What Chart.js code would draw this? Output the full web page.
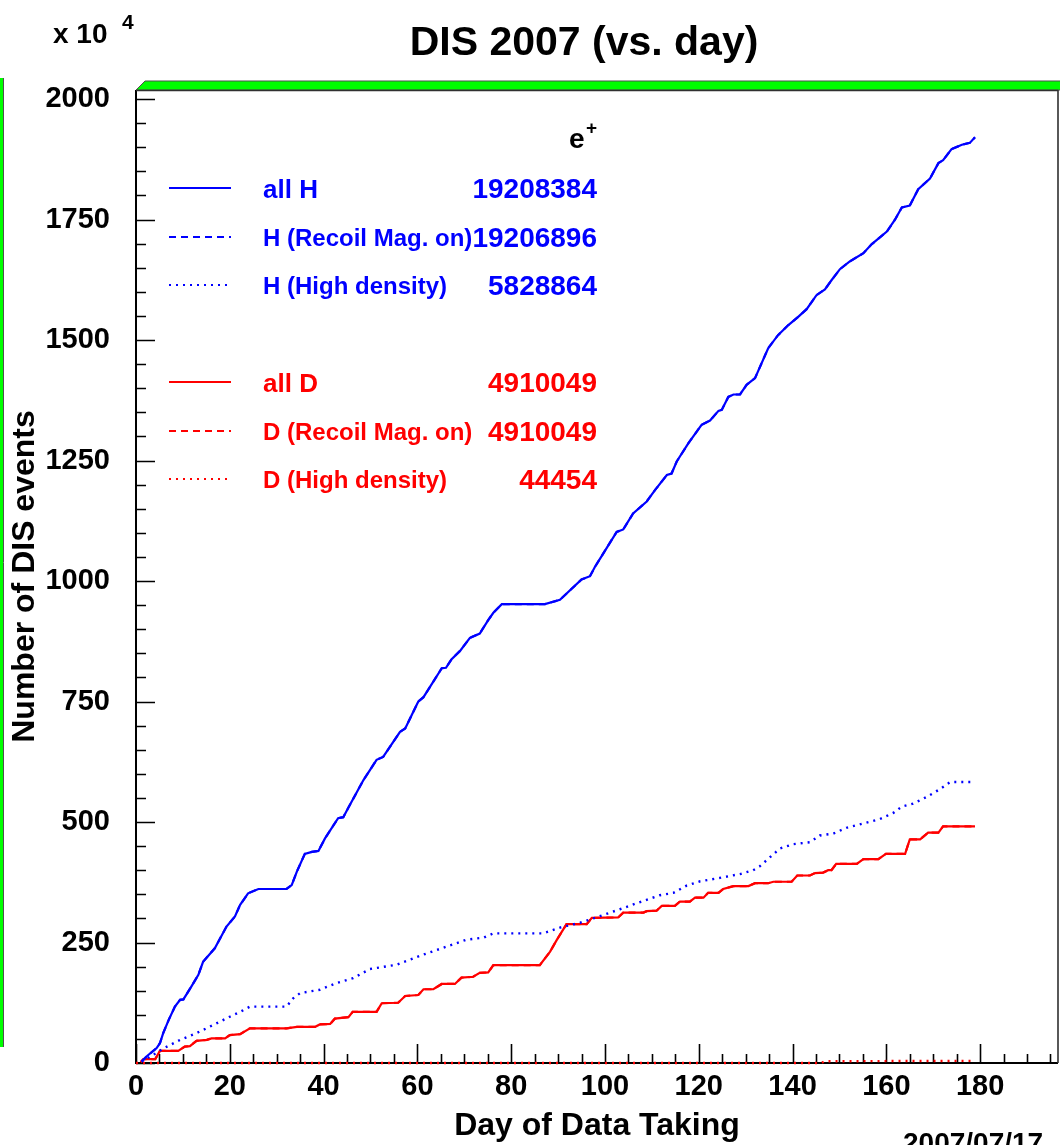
<!DOCTYPE html>
<html>
<head>
<meta charset="utf-8">
<title>DIS 2007 (vs. day)</title>
<script src="https://cdn.jsdelivr.net/npm/chart.js@4.4.0/dist/chart.umd.min.js"></script>
<style>
  html, body { margin: 0; padding: 0; background: #ffffff; }
  canvas { display: block; }
</style>
</head>
<body>
<canvas id="dis" width="1060" height="1145"></canvas>
<script>
// Cumulative DIS events (units of 10^4) versus day of data taking, 2007 e+ run.

const seriesNames = [
  'all H', 'H (Recoil Mag. on)', 'H (High density)',
  'all D', 'D (Recoil Mag. on)', 'D (High density)'
];
const seriesTotals = ['19208384', '19206896', '5828864', '4910049', '4910049', '44454'];

const hAllDays = [1.2, 2.3, 4.4, 5.1, 5.8, 7.0, 8.3, 9.4, 10.1, 11.7, 13.3, 14.3, 16.8, 19.3, 21.1, 22.2, 23.9, 26.1, 32.1, 33.2, 34.3, 36.0, 37.5, 38.9, 40.3, 43.1, 44.2, 45.3, 48.5, 51.3, 52.7, 56.3, 57.4, 60.2, 61.3, 65.2, 66.1, 67.3, 69.1, 71.2, 73.3, 75.1, 76.2, 78.0, 87.2, 90.4, 95.0, 96.8, 97.9, 102.5, 103.9, 106.0, 108.9, 110.7, 113.2, 114.2, 115.3, 117.8, 120.6, 122.4, 124.2, 124.9, 126.3, 127.4, 128.8, 130.2, 132.0, 134.8, 136.9, 139.1, 141.2, 143.0, 145.1, 146.9, 148.3, 150.1, 152.2, 155.1, 156.9, 160.1, 161.8, 163.3, 165.0, 166.8, 169.3, 171.1, 172.1, 173.9, 176.1, 177.8, 178.9];
const hAllEvents = [3, 14, 31, 41, 62, 90, 117, 131, 132, 157, 183, 210, 238, 283, 304, 328, 352, 361, 361, 369, 397, 434, 438, 440, 466, 508, 510, 530, 587, 629, 635, 687, 694, 750, 759, 819, 820, 838, 855, 882, 891, 919, 934, 952, 952, 961, 1003, 1010, 1030, 1102, 1107, 1140, 1165, 1189, 1220, 1223, 1248, 1286, 1324, 1333, 1353, 1355, 1382, 1387, 1387, 1407, 1421, 1483, 1510, 1531, 1548, 1564, 1593, 1605, 1624, 1647, 1663, 1680, 1699, 1725, 1749, 1775, 1779, 1813, 1835, 1867, 1873, 1896, 1905, 1909, 1920.8];

const hRecoilDays = [1.2, 2.3, 4.4, 5.1, 5.8, 7.0, 8.3, 9.4, 10.1, 11.7, 13.3, 14.3, 16.8, 19.3, 21.1, 22.2, 23.9, 26.1, 32.1, 33.2, 34.3, 36.0, 37.5, 38.9, 40.3, 43.1, 44.2, 45.3, 48.5, 51.3, 52.7, 56.3, 57.4, 60.2, 61.3, 65.2, 66.1, 67.3, 69.1, 71.2, 73.3, 75.1, 76.2, 78.0, 87.2, 90.4, 95.0, 96.8, 97.9, 102.5, 103.9, 106.0, 108.9, 110.7, 113.2, 114.2, 115.3, 117.8, 120.6, 122.4, 124.2, 124.9, 126.3, 127.4, 128.8, 130.2, 132.0, 134.8, 136.9, 139.1, 141.2, 143.0, 145.1, 146.9, 148.3, 150.1, 152.2, 155.1, 156.9, 160.1, 161.8, 163.3, 165.0, 166.8, 169.3, 171.1, 172.1, 173.9, 176.1, 177.8, 178.9];
const hRecoilEvents = [3, 14, 31, 41, 62, 90, 117, 131, 132, 157, 183, 210, 238, 283, 304, 328, 352, 361, 361, 369, 397, 434, 438, 440, 466, 508, 510, 530, 587, 629, 635, 687, 694, 750, 759, 819, 820, 838, 855, 882, 891, 919, 934, 952, 952, 961, 1003, 1010, 1030, 1102, 1107, 1140, 1165, 1189, 1220, 1223, 1248, 1286, 1324, 1333, 1353, 1355, 1382, 1387, 1387, 1407, 1421, 1483, 1510, 1531, 1548, 1564, 1593, 1605, 1624, 1647, 1663, 1680, 1699, 1725, 1749, 1775, 1779, 1813, 1835, 1867, 1873, 1896, 1905, 1909, 1920.7];

const hDenseDays = [1.2, 4.4, 5.8, 9.4, 12.9, 16.5, 20.0, 22.2, 24.3, 32.1, 33.5, 35.0, 39.2, 42.8, 46.3, 49.9, 55.6, 61.3, 65.5, 70.5, 74.1, 76.2, 86.8, 90.4, 94.7, 97.5, 103.2, 107.5, 111.7, 114.6, 117.4, 120.3, 124.5, 128.8, 131.6, 133.0, 135.9, 137.3, 140.1, 143.7, 145.8, 148.7, 151.5, 155.1, 158.6, 161.5, 163.3, 165.7, 168.6, 171.4, 173.6, 178.9];
const hDenseEvents = [3, 21, 30, 48, 62, 79, 96, 106, 117, 117, 134, 145, 152, 166, 176, 195, 204, 225, 239, 256, 260, 269, 269, 281, 291, 300, 319, 334, 348, 353, 368, 377, 384, 392, 400, 408, 433, 445, 454, 458, 472, 476, 488, 497, 506, 519, 532, 538, 552, 568, 582.9, 582.9];

const dAllDays = [1.0, 1.6, 4.1, 5.1, 9.0, 10.4, 11.5, 12.9, 15.1, 16.1, 19.0, 20.0, 22.2, 24.3, 32.1, 34.3, 38.2, 39.2, 41.4, 42.4, 45.3, 46.2, 51.3, 52.4, 55.9, 57.4, 60.2, 61.3, 63.4, 65.2, 68.0, 69.4, 71.9, 73.3, 75.1, 76.2, 86.1, 88.3, 89.7, 91.8, 96.1, 97.2, 102.8, 103.9, 108.2, 108.9, 111.0, 112.1, 114.9, 116.0, 118.1, 119.2, 121.0, 122.0, 124.2, 125.2, 127.4, 130.6, 132.0, 134.8, 135.9, 139.8, 141.0, 143.7, 144.8, 146.5, 147.6, 148.3, 149.3, 153.7, 155.1, 158.3, 159.9, 164.0, 165.0, 167.2, 168.9, 171.1, 172.1, 178.9];
const dAllEvents = [2, 8, 8, 25, 25, 34, 35, 46, 48, 51, 51, 58, 60, 72, 72, 75, 75, 80, 81, 92, 95, 106, 106, 124, 125, 139, 141, 153, 153, 164, 164, 177, 179, 187, 188, 203, 203, 231, 255, 288, 288, 301, 302, 312, 312, 315, 316, 326, 326, 335, 335, 343, 343, 353, 353, 361, 367, 367, 373, 373, 376, 376, 389, 389, 394, 395, 400, 400, 413, 413, 423, 423, 434, 434, 464, 464, 478, 478, 491.0, 491.0];

const dRecoilDays = [1.0, 1.6, 4.1, 5.1, 9.0, 10.4, 11.5, 12.9, 15.1, 16.1, 19.0, 20.0, 22.2, 24.3, 32.1, 34.3, 38.2, 39.2, 41.4, 42.4, 45.3, 46.2, 51.3, 52.4, 55.9, 57.4, 60.2, 61.3, 63.4, 65.2, 68.0, 69.4, 71.9, 73.3, 75.1, 76.2, 86.1, 88.3, 89.7, 91.8, 96.1, 97.2, 102.8, 103.9, 108.2, 108.9, 111.0, 112.1, 114.9, 116.0, 118.1, 119.2, 121.0, 122.0, 124.2, 125.2, 127.4, 130.6, 132.0, 134.8, 135.9, 139.8, 141.0, 143.7, 144.8, 146.5, 147.6, 148.3, 149.3, 153.7, 155.1, 158.3, 159.9, 164.0, 165.0, 167.2, 168.9, 171.1, 172.1, 178.9];
const dRecoilEvents = [2, 8, 8, 25, 25, 34, 35, 46, 48, 51, 51, 58, 60, 72, 72, 75, 75, 80, 81, 92, 95, 106, 106, 124, 125, 139, 141, 153, 153, 164, 164, 177, 179, 187, 188, 203, 203, 231, 255, 288, 288, 301, 302, 312, 312, 315, 316, 326, 326, 335, 335, 343, 343, 353, 353, 361, 367, 367, 373, 373, 376, 376, 389, 389, 394, 395, 400, 400, 413, 413, 423, 423, 434, 434, 464, 464, 478, 478, 491.0, 491.0];

const dDenseDays = [0.0, 146.2, 146.8, 160.0, 178.9];
const dDenseEvents = [0, 0, 3.5, 4.0, 4.4];

const xTickLabels = [0, 20, 40, 60, 80, 100, 120, 140, 160, 180];
const yTickLabels = [0, 250, 500, 750, 1000, 1250, 1500, 1750, 2000];

const FONT = '"Liberation Sans", Arial, Helvetica, sans-serif';
const BLUE = '#0000ff';
const RED = '#ff0000';

const toPoints = (days, events) => days.map((d, i) => ({ x: d, y: events[i] }));

const styles = [
  { color: BLUE, dash: [], width: 2.2 },
  { color: BLUE, dash: [7, 5], width: 2.2 },
  { color: BLUE, dash: [2, 5], width: 2.4 },
  { color: RED, dash: [], width: 2.2 },
  { color: RED, dash: [7, 5], width: 2.2 },
  { color: RED, dash: [2, 5], width: 2.4 }
];
const seriesData = [
  toPoints(hAllDays, hAllEvents),
  toPoints(hRecoilDays, hRecoilEvents),
  toPoints(hDenseDays, hDenseEvents),
  toPoints(dAllDays, dAllEvents),
  toPoints(dRecoilDays, dRecoilEvents),
  toPoints(dDenseDays, dDenseEvents)
];

// Frame, bevel and inward tick marks, drawn underneath the curves.
const frame = {
  id: 'frame',
  beforeDatasetsDraw(chart) {
    const { ctx, chartArea: a, scales: { x, y } } = chart;
    ctx.save();

    // green bevel along the top of the frame
    ctx.fillStyle = '#00ff00';
    ctx.strokeStyle = '#505050';
    ctx.lineWidth = 1;
    ctx.beginPath();
    ctx.moveTo(a.left, a.top);
    ctx.lineTo(a.left + 9, a.top - 9);
    ctx.lineTo(1062, a.top - 9);
    ctx.lineTo(1062, a.top);
    ctx.closePath();
    ctx.fill();
    ctx.stroke();

    // green strip at the left edge of the canvas
    ctx.fillRect(0, 78, 3, 969);
    ctx.beginPath();
    ctx.moveTo(3.5, 78);
    ctx.lineTo(3.5, 1047);
    ctx.stroke();

    // axes and frame box
    ctx.strokeStyle = '#000000';
    ctx.lineWidth = 2;
    ctx.beginPath();
    ctx.moveTo(a.left, a.top);
    ctx.lineTo(a.left, a.bottom);
    ctx.lineTo(a.right, a.bottom);
    ctx.stroke();
    ctx.strokeStyle = '#303030';
    ctx.lineWidth = 1.6;
    ctx.beginPath();
    ctx.moveTo(a.right, a.top);
    ctx.lineTo(a.right, a.bottom);
    ctx.moveTo(a.left, a.top + 0.5);
    ctx.lineTo(a.right, a.top + 0.5);
    ctx.stroke();

    // tick marks pointing into the frame
    ctx.strokeStyle = '#000000';
    ctx.lineWidth = 1.6;
    ctx.beginPath();
    for (let d = 0; d <= x.max; d += 5) {
      const px = Math.round(x.getPixelForValue(d)) + 0.5;
      const len = d % 20 === 0 ? 19 : 9;
      ctx.moveTo(px, a.bottom);
      ctx.lineTo(px, a.bottom - len);
    }
    for (let v = 0; v <= y.max; v += 50) {
      const py = Math.round(y.getPixelForValue(v)) + 0.5;
      const len = v % 250 === 0 ? 19 : 10;
      ctx.moveTo(a.left, py);
      ctx.lineTo(a.left + len, py);
    }
    ctx.stroke();
    ctx.restore();
  }
};

// Legend box and free text.
const annotations = {
  id: 'annotations',
  afterDraw(chart) {
    const { ctx } = chart;
    ctx.save();

    const rowY = [188, 237, 285, 382, 431, 479];
    chart.data.datasets.forEach((ds, i) => {
      const yy = rowY[i];
      ctx.strokeStyle = ds.borderColor;
      ctx.lineWidth = 2.2;
      ctx.setLineDash(ds.borderDash || []);
      ctx.beginPath();
      ctx.moveTo(169, yy);
      ctx.lineTo(231, yy);
      ctx.stroke();
      ctx.setLineDash([]);
      ctx.fillStyle = ds.borderColor;
      ctx.textBaseline = 'alphabetic';
      ctx.textAlign = 'left';
      const big = (i === 0 || i === 3);
      ctx.font = 'bold ' + (big ? 26 : 24) + 'px ' + FONT;
      ctx.fillText(ds.label, 263, yy + (big ? 9.5 : 8.5));
      ctx.textAlign = 'right';
      ctx.font = 'bold 28px ' + FONT;
      ctx.fillText(seriesTotals[i], 597, yy + 10);
    });

    // beam label
    ctx.fillStyle = '#000000';
    ctx.textAlign = 'left';
    ctx.textBaseline = 'alphabetic';
    ctx.font = 'bold 28px ' + FONT;
    ctx.fillText('e', 569, 148);
    ctx.font = 'bold 19px ' + FONT;
    ctx.fillText('+', 586, 134);

    // title
    ctx.textAlign = 'center';
    ctx.font = 'bold 41px ' + FONT;
    ctx.fillText('DIS 2007 (vs. day)', 584, 55);

    // axis multiplier
    ctx.textAlign = 'left';
    ctx.font = 'bold 28px ' + FONT;
    ctx.fillText('x 10', 53, 43);
    ctx.font = 'bold 21px ' + FONT;
    ctx.fillText('4', 122, 29);

    // date stamp
    ctx.font = 'bold 28px ' + FONT;
    ctx.fillText('2007/07/17', 903, 1152);

    ctx.restore();
  }
};

const tickFont = { family: FONT, size: 29, weight: 'bold' };
const titleFont = { family: FONT, size: 32, weight: 'bold' };

new Chart(document.getElementById('dis'), {
  type: 'line',
  data: {
    datasets: seriesData.map((pts, i) => ({
      label: seriesNames[i],
      data: pts,
      borderColor: styles[i].color,
      borderDash: styles[i].dash,
      borderWidth: styles[i].width,
      pointRadius: 0,
      tension: 0,
      fill: false,
      clip: 4
    }))
  },
  options: {
    responsive: false,
    animation: false,
    events: [],
    layout: { padding: { left: 0, right: 2, top: 90, bottom: 0 } },
    plugins: {
      legend: { display: false },
      title: { display: false },
      tooltip: { enabled: false }
    },
    scales: {
      x: {
        type: 'linear',
        min: 0,
        max: 196.6,
        grid: { display: false, drawTicks: false },
        border: { display: false },
        afterBuildTicks: s => { s.ticks = xTickLabels.map(v => ({ value: v })); },
        afterFit: s => { s.height = 82; },
        ticks: {
          font: tickFont, color: '#000000', padding: 7,
          maxRotation: 0, autoSkip: false,
          callback: v => String(v)
        },
        title: {
          display: true, text: 'Day of Data Taking', color: '#000000',
          font: titleFont, padding: { top: 0, bottom: 0 }
        }
      },
      y: {
        type: 'linear',
        min: 0,
        max: 2018.7,
        grid: { display: false, drawTicks: false },
        border: { display: false },
        afterBuildTicks: s => { s.ticks = yTickLabels.map(v => ({ value: v })); },
        afterFit: s => { s.width = 136; },
        ticks: {
          font: tickFont, color: '#000000', padding: 26,
          autoSkip: false,
          callback: v => String(v)
        },
        title: {
          display: true, text: 'Number of DIS events', color: '#000000',
          font: titleFont, padding: { top: 6, bottom: 0 }
        }
      }
    }
  },
  plugins: [frame, annotations]
});
</script>
</body>
</html>
